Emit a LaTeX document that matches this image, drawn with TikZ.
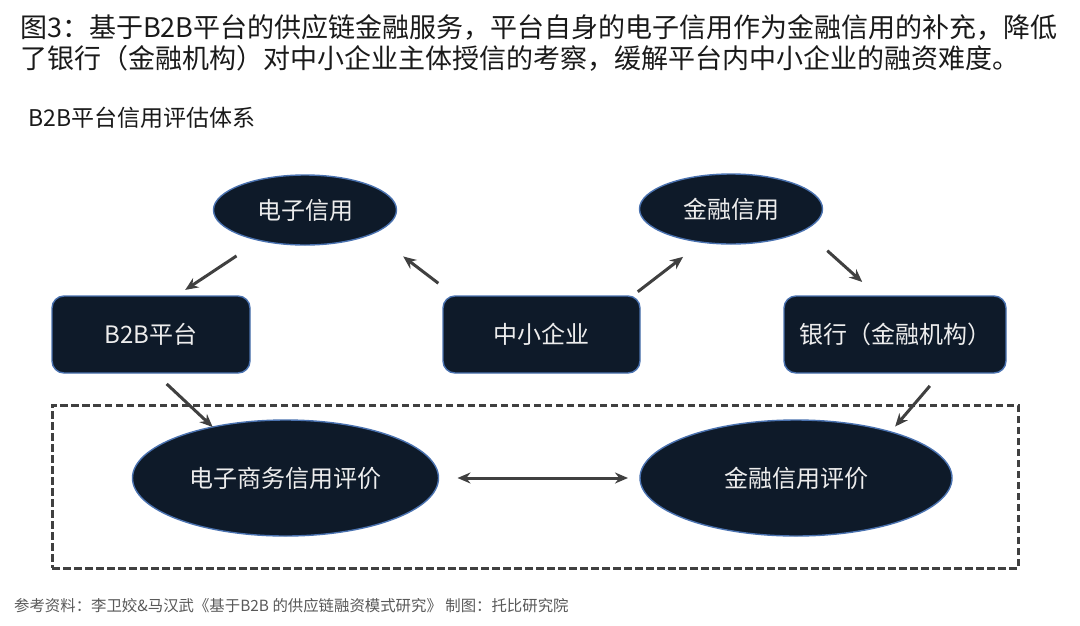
\documentclass[tikz,border=0pt]{standalone}
\usepackage{fontspec}
\setmainfont{Noto Sans CJK SC}
\usetikzlibrary{arrows.meta,shapes.geometric}
\definecolor{textcolor}{HTML}{1A1A1A}
\definecolor{muted}{HTML}{595959}
\definecolor{nodefill}{HTML}{0E1A29}
\definecolor{nodeborder}{HTML}{4A72B0}
\definecolor{nodetext}{HTML}{EDEDED}
\definecolor{edgecolor}{HTML}{404040}
\tikzset{
  base/.style={align=center, fill=nodefill, draw=nodeborder, line width=1.4pt, inner sep=0pt, outer sep=0pt, text=nodetext, font=\fontsize{24}{28}\selectfont},
  credit/.style={base, ellipse, minimum width=183pt, minimum height=70pt},
  party/.style={base, rounded corners=12pt, minimum height=77pt},
  rating/.style={base, ellipse, minimum width=306pt, minimum height=116pt},
  zone/.style={draw=edgecolor, line width=3pt, dash pattern=on 7.5pt off 3.5pt, inner sep=0pt, outer sep=0pt},
  caption/.style={anchor=west, inner sep=0pt, text=textcolor},
  edge/.style={-{Stealth[length=13pt,width=11pt]}, draw=edgecolor, line width=3pt},
  twoway/.style={{Stealth[length=13pt,width=11pt]}-{Stealth[length=13pt,width=11pt]}, draw=edgecolor, line width=3pt},
}

\begin{document}
\begin{tikzpicture}[x=1pt,y=-1pt]
  \useasboundingbox[fill=white] (0,0) rectangle (1080,625);

  \node[caption, font=\fontsize{27}{32}\selectfont] (title1) at (20,27)
    {图3：基于B2B平台的供应链金融服务，平台自身的电子信用作为金融信用的补充，降低};
  \node[caption, font=\fontsize{27}{32}\selectfont] (title2) at (20,58)
    {了银行（金融机构）对中小企业主体授信的考察，缓解平台内中小企业的融资难度。};
  \node[caption, font=\fontsize{23}{27}\selectfont] (subtitle) at (28,118) {B2B平台信用评估体系};

  \node[credit] (ecredit) at (305,210) {电子信用};
  \node[credit] (fcredit) at (731,209) {金融信用};

  \node[party, minimum width=198pt] (platform) at (151,334.5) {B2B平台};
  \node[party, minimum width=197pt] (sme) at (541.5,334.5) {中小企业};
  \node[party, minimum width=222pt] (bank) at (895,334.5) {银行（金融机构）};

  \node[zone, minimum width=966pt, minimum height=163pt] (evalzone) at (535,486.5) {};

  \node[rating] (erating) at (285.5,478) {电子商务信用评价};
  \node[rating, minimum width=312pt] (frating) at (796,478) {金融信用评价};

  \draw[edge, shorten <=28pt, shorten >=11pt] (ecredit.214) -- (platform.57);
  \draw[edge, shorten <=21pt, shorten >=38pt] (sme.156) -- (ecredit.-19);
  \draw[edge, shorten <=7pt, shorten >=24pt] (sme.23) -- (fcredit.229);
  \draw[edge, shorten <=31pt, shorten >=21pt] (fcredit.-16) -- (bank.114);
  \draw[edge, shorten <=16pt] (platform.276) -- (erating.145);
  \draw[edge, shorten <=17pt, shorten >=7pt] (bank.320) -- (frating.26);
  \draw[twoway, shorten <=19pt, shorten >=12pt] (erating.east) -- (frating.west);

  \node[caption, font=\fontsize{15.4}{18}\selectfont, text=muted] (source) at (14,606)
    {参考资料：李卫姣\&马汉武《基于B2B 的供应链融资模式研究》 制图：托比研究院};
\end{tikzpicture}
\end{document}
